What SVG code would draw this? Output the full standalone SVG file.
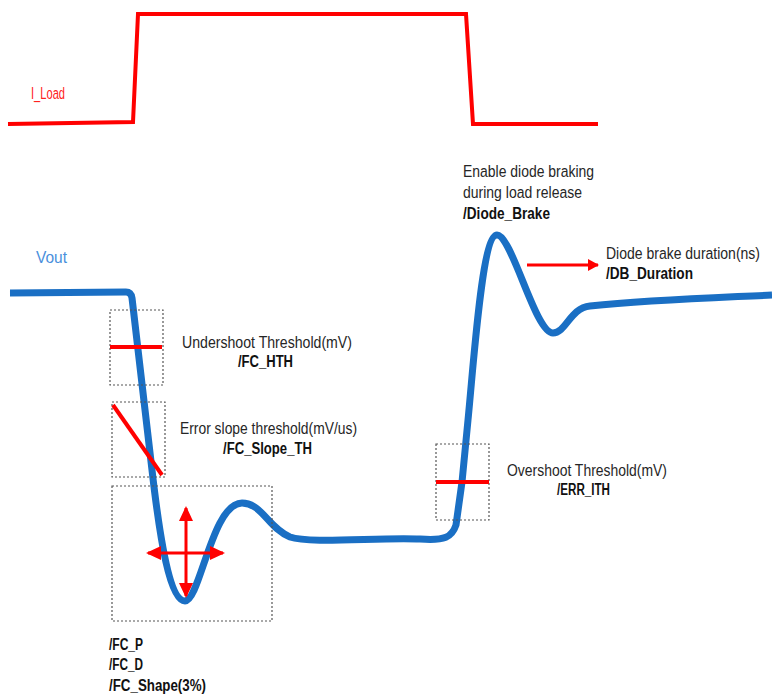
<svg xmlns="http://www.w3.org/2000/svg" width="772" height="696" viewBox="0 0 772 696">
<style>
.t{font-family:"Liberation Sans",Arial,sans-serif;font-size:17px;fill:#262626}
.b{font-weight:bold;fill:#111}
.box{fill:none;stroke:#555;stroke-width:1.2;stroke-dasharray:2 2}
.red{fill:none;stroke:#ff0000;stroke-width:4}
.arr{stroke:#ff0000;stroke-width:3;fill:none}
</style>
<defs>
<marker id="ah" viewBox="0 0 15 14" refX="13" refY="7" markerWidth="15" markerHeight="14" orient="auto-start-reverse" markerUnits="userSpaceOnUse">
<path d="M0,0 L15,7 L0,14 z" fill="#ff0000"/>
</marker>
<marker id="ah2" viewBox="0 0 11 12" refX="10" refY="6" markerWidth="11" markerHeight="12" orient="auto" markerUnits="userSpaceOnUse">
<path d="M0,0 L11,6 L0,12 z" fill="#ff0000"/>
</marker>
</defs>
<g id="iload">
<polyline class="red" points="8,124 133,122 138,14 466,14 473,124 598,124"/>
<text class="t" transform="translate(31,99) scale(0.82,1)" style="fill:#ff2020" textLength="41.5" lengthAdjust="spacingAndGlyphs">I_Load</text>
</g>
<g id="vout">
<path d="M10,293 L126,292 Q131,292 132,298 L152,470 C160,540 170,601 185,601 C200,601 212,503 242,503 C262,503 268,528 290,537 C310,544 380,537 420,539 C445,541 452,537 456,525 L462,482 L468,420 C474,360 482,235 497,235 C512,235 535,333 553,333 C566,333 570,308 590,306 C650,300 710,298 772,295" fill="none" stroke="#1a6fc4" stroke-width="7" stroke-linejoin="round"/>
<text class="t" transform="translate(36,263) scale(0.82,1)" style="fill:#4a90dc" textLength="37.8" lengthAdjust="spacingAndGlyphs">Vout</text>
</g>
<g id="undershoot">
<rect class="box" x="110" y="310" width="53" height="75"/>
<line x1="110" y1="347" x2="162" y2="347" class="red"/>
<text class="t" transform="translate(182,348) scale(0.82,1)" textLength="207.3" lengthAdjust="spacingAndGlyphs">Undershoot Threshold(mV)</text>
<text class="t b" transform="translate(238,367) scale(0.82,1)" textLength="67.1" lengthAdjust="spacingAndGlyphs">/FC_HTH</text>
</g>
<g id="slope">
<rect class="box" x="112" y="402" width="53" height="75"/>
<line x1="113" y1="405" x2="162" y2="475" class="red"/>
<text class="t" transform="translate(180,434) scale(0.82,1)" textLength="215.9" lengthAdjust="spacingAndGlyphs">Error slope threshold(mV/us)</text>
<text class="t b" transform="translate(223,454) scale(0.82,1)" textLength="108.5" lengthAdjust="spacingAndGlyphs">/FC_Slope_TH</text>
</g>
<g id="shape">
<rect class="box" x="112" y="486" width="160" height="135"/>
<text class="t b" transform="translate(109,650) scale(0.82,1)" textLength="41.5" lengthAdjust="spacingAndGlyphs">/FC_P</text>
<text class="t b" transform="translate(109,670) scale(0.82,1)" textLength="41.5" lengthAdjust="spacingAndGlyphs">/FC_D</text>
<text class="t b" transform="translate(109,691) scale(0.82,1)" textLength="118.3" lengthAdjust="spacingAndGlyphs">/FC_Shape(3%)</text>
</g>
<g id="overshoot">
<rect class="box" x="436" y="444" width="53" height="76"/>
<line x1="436" y1="482" x2="489" y2="482" class="red"/>
<text class="t" transform="translate(507,476) scale(0.82,1)" textLength="195.1" lengthAdjust="spacingAndGlyphs">Overshoot Threshold(mV)</text>
<text class="t b" transform="translate(557,495) scale(0.82,1)" textLength="64.6" lengthAdjust="spacingAndGlyphs">/ERR_ITH</text>
</g>
<g id="diodebrake">
<text class="t" transform="translate(463,177) scale(0.82,1)" textLength="159.8" lengthAdjust="spacingAndGlyphs">Enable diode braking</text>
<text class="t" transform="translate(463,198) scale(0.82,1)" textLength="145.1" lengthAdjust="spacingAndGlyphs">during load release</text>
<text class="t b" transform="translate(463,219) scale(0.82,1)" textLength="106.1" lengthAdjust="spacingAndGlyphs">/Diode_Brake</text>
</g>
<g id="dbduration">
<text class="t" transform="translate(606,259) scale(0.82,1)" textLength="187.8" lengthAdjust="spacingAndGlyphs">Diode brake duration(ns)</text>
<text class="t b" transform="translate(606,279) scale(0.82,1)" textLength="106.1" lengthAdjust="spacingAndGlyphs">/DB_Duration</text>
</g>
<g id="connectors">
<line x1="527" y1="265" x2="598" y2="265" class="arr" stroke-width="2.5" marker-end="url(#ah2)"/>
<line x1="148" y1="553" x2="223" y2="553" class="arr" marker-start="url(#ah)" marker-end="url(#ah)"/>
<line x1="186" y1="508" x2="186" y2="596" class="arr" marker-start="url(#ah)" marker-end="url(#ah)"/>
</g>
</svg>
